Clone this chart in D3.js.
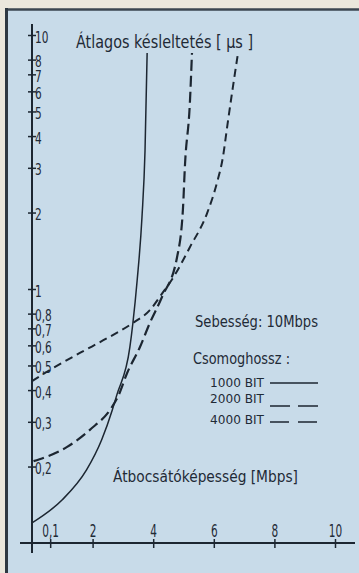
<!DOCTYPE html>
<html>
<head>
<meta charset="utf-8">
<script src="https://cdn.jsdelivr.net/npm/d3@7"></script>
<style>
  html, body { margin: 0; padding: 0; background: #ebe7dc; }
  svg { display: block; }
  text { font-family: "DejaVu Sans", "Liberation Sans", sans-serif; fill: #1f2a36; }
</style>
</head>
<body>
<div id="chart"></div>
<script>
// Átlagos késleltetés vs. átbocsátóképesség, 10 Mbps
// throughput [Mbps], delay (log axis)
const series1000 = [[0, 0.12], [1.0, 0.148], [1.8, 0.194], [2.3, 0.255], [2.65, 0.334], [2.8, 0.383],
  [3.23, 0.59], [3.33, 0.735], [3.47, 1.08], [3.63, 1.92], [3.73, 3.5], [3.8, 8.5]];
const series2000 = [[0.05, 0.21], [1.16, 0.239], [1.91, 0.279], [2.64, 0.343], [2.85, 0.38], [3.14, 0.467],
  [3.56, 0.59], [3.89, 0.735], [4.29, 0.93], [4.79, 1.34], [4.98, 2.05], [5.05, 3.1], [5.21, 5.4], [5.28, 8.5]];
const series4000 = [[0, 0.434], [0.59, 0.48], [1.58, 0.56], [2.48, 0.64], [3.33, 0.735], [3.89, 0.826],
  [4.32, 0.97], [4.62, 1.09], [5.21, 1.46], [5.78, 1.99], [6.1, 2.61], [6.3, 3.3], [6.44, 4.34], [6.63, 6.24], [6.8, 8.5]];

const seriesNames = ["1000 BIT", "2000 BIT", "4000 BIT"];

const yTickValues = [10, 8, 7, 6, 5, 4, 3, 2, 1, 0.8, 0.7, 0.6, 0.5, 0.4, 0.3, 0.2];
// the first x tick is labelled "0,1" in the original, but sits well right of the origin
const xTickValues = [0.6, 2, 4, 6, 8, 10];
const xTickLabels = ["0,1", "2", "4", "6", "8", "10"];

const W = 359, H = 573;
const ink = "#1c2631";

const svg = d3.select("#chart").append("svg")
  .attr("width", W)
  .attr("height", H);

// paper + panel
svg.append("rect").attr("width", W).attr("height", H).attr("fill", "#ebe7dc");
svg.append("rect").attr("x", 6).attr("y", 9).attr("width", W).attr("height", H)
  .attr("fill", "#c8dbe9");
svg.append("line").attr("x1", 5).attr("x2", W).attr("y1", 9.5).attr("y2", 9.5)
  .attr("stroke", "#3b4650").attr("stroke-width", 2.5);
svg.append("line").attr("x1", 6.5).attr("x2", 6.5).attr("y1", 8).attr("y2", H)
  .attr("stroke", "#2e3842").attr("stroke-width", 3);

const x = d3.scaleLinear().domain([0, 10]).range([32, 335]);
const y = d3.scaleLog().domain([0.1, 10]).range([543, 35]);

// axis lines
svg.append("line").attr("x1", x(0)).attr("x2", x(0)).attr("y1", 24).attr("y2", 553)
  .attr("stroke", ink).attr("stroke-width", 2);
svg.append("line").attr("x1", 20).attr("x2", 355).attr("y1", y(0.1)).attr("y2", y(0.1))
  .attr("stroke", ink).attr("stroke-width", 2);

// y axis: "+" ticks, labels to the right
const yAxis = svg.append("g")
  .attr("transform", `translate(${x(0)},0)`)
  .call(d3.axisRight(y).tickValues(yTickValues).tickSize(4)
    .tickFormat(d => String(d).replace(".", ",")));
yAxis.select(".domain").remove();
yAxis.selectAll(".tick line").attr("x1", -4).attr("x2", 4)
  .attr("stroke", ink).attr("stroke-width", 1.5);
yAxis.selectAll(".tick text")
  .attr("x", 0).attr("dy", 0).attr("y", 7)
  .attr("transform", "translate(3,0) scale(0.66,1)")
  .attr("font-size", 16)
  .attr("font-family", "DejaVu Sans")
  .attr("fill", "#1f2a36");

// x axis
const xAxis = svg.append("g")
  .attr("transform", `translate(0,${y(0.1)})`)
  .call(d3.axisTop(x).tickValues(xTickValues).tickSize(4)
    .tickFormat((d, i) => xTickLabels[i]));
xAxis.select(".domain").remove();
xAxis.selectAll(".tick line").attr("y1", -4).attr("y2", 5)
  .attr("stroke", ink).attr("stroke-width", 1.5);
xAxis.selectAll(".tick text")
  .attr("y", -6).attr("dy", 0)
  .attr("transform", "scale(0.62,1)")
  .attr("font-size", 17)
  .attr("font-family", "DejaVu Sans")
  .attr("fill", "#1f2a36");

// curves
const line = d3.line()
  .x(d => x(d[0]))
  .y(d => y(d[1]))
  .curve(d3.curveMonotoneX);

svg.append("path").datum(series1000)
  .attr("fill", "none").attr("stroke", ink).attr("stroke-width", 1.5)
  .attr("d", line);
svg.append("path").datum(series2000)
  .attr("fill", "none").attr("stroke", ink).attr("stroke-width", 2.2)
  .attr("stroke-dasharray", "11,5")
  .attr("d", line);
svg.append("path").datum(series4000)
  .attr("fill", "none").attr("stroke", ink).attr("stroke-width", 2)
  .attr("stroke-dasharray", "8,5")
  .attr("d", line);

// texts
function label(txt, x0, y0, size, width) {
  return svg.append("text")
    .attr("x", x0).attr("y", y0)
    .attr("font-size", size)
    .attr("textLength", width)
    .attr("lengthAdjust", "spacingAndGlyphs")
    .text(txt);
}

label("Átlagos késleltetés [ µs ]", 76, 48, 17, 177);
label("Sebesség: 10Mbps", 195, 327, 15, 123);
label("Csomoghossz :", 193, 364, 15, 97);
label("Átbocsátóképesség [Mbps]", 113, 482, 15.5, 185);

// legend
const legendY = [387, 403, 424];
const legendLineY = [383, 406, 422];
const legendDash = [null, "20,8", "19,9"];
seriesNames.forEach((name, i) => {
  label(name, 210, legendY[i], 13, 54);
  svg.append("line")
    .attr("x1", 270).attr("x2", 318)
    .attr("y1", legendLineY[i]).attr("y2", legendLineY[i])
    .attr("stroke", ink).attr("stroke-width", 1.3)
    .attr("stroke-dasharray", legendDash[i]);
});
</script>
</body>
</html>
